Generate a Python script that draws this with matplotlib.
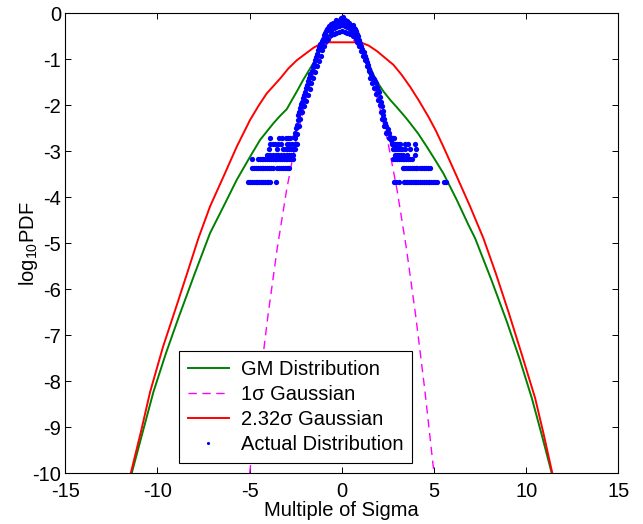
import numpy as np
import matplotlib
matplotlib.use("Agg")
import matplotlib.pyplot as plt

plt.rcParams['font.family'] = ['Liberation Sans', 'DejaVu Sans']
plt.rcParams['mathtext.fontset'] = 'custom'
plt.rcParams['mathtext.rm'] = 'Liberation Sans'
plt.rcParams['mathtext.it'] = 'Liberation Sans:italic'
plt.rcParams['axes.unicode_minus'] = False

# GM distribution
gm_x = [-11.40, -10.80, -10.22, -9.55, -8.87, -8.00, -7.15, -6.42, -5.70, -4.98, -4.43,
        -3.71, -3.35, -2.98, -2.70, -2.44, -2.10, -1.72, -1.27, -0.80, -0.40, 0.0,
        0.40, 0.80, 1.40, 1.85, 2.26, 2.62, 3.00, 3.43, 3.71, 4.15, 4.61, 5.05, 5.51,
        6.24, 6.87, 7.23, 8.10, 8.95, 9.65, 10.31, 10.85, 11.39]
gm_y = [-10.0, -9.10, -8.23, -7.40, -6.63, -5.68, -4.78, -4.20, -3.62, -3.12, -2.75,
        -2.39, -2.23, -2.08, -1.88, -1.70, -1.45, -1.20, -0.90, -0.52, -0.33, -0.28,
        -0.33, -0.52, -1.05, -1.45, -1.70, -1.88, -2.05, -2.25, -2.39, -2.62, -2.90, -3.18, -3.48,
        -4.06, -4.60, -4.89, -5.78, -6.70, -7.52, -8.37, -9.17, -10.0]

# 1 sigma gaussian
g1_x = [-5.0, -4.5, -4.0, -3.5, -3.0, -2.5, -2.0, -1.5, -1.0, -0.5, 0.0,
        0.5, 1.0, 1.5, 2.0, 2.5, 3.0, 3.5, 4.0, 4.5, 5.0]
g1_y = [-10.0, -8.18, -6.55, -5.10, -3.85, -2.80, -1.95, -1.25, -0.78, -0.50, -0.40,
        -0.50, -0.78, -1.25, -1.95, -2.80, -3.85, -5.10, -6.55, -8.18, -10.0]

# 2.32 sigma gaussian
g2_x = [-11.45, -10.90, -10.40, -9.70, -8.95, -8.35, -7.78, -7.15, -6.42, -5.70, -4.98,
        -4.50, -4.07, -3.35, -2.90, -2.44, -1.54, -1.0, 1.0, 1.45, 1.90, 2.35, 2.80,
        3.25, 3.71, 4.20, 4.70, 5.10, 5.51, 6.24, 6.96, 7.68, 8.35, 9.04, 9.75, 10.49,
        10.95, 11.42]
g2_y = [-10.0, -9.10, -8.23, -7.25, -6.34, -5.60, -4.89, -4.20, -3.55, -2.90, -2.32,
        -2.00, -1.74, -1.42, -1.20, -1.02, -0.75, -0.63, -0.63, -0.70, -0.82, -0.97, -1.12,
        -1.34, -1.60, -1.91, -2.25, -2.55, -2.90, -3.55, -4.20, -4.89, -5.65, -6.49, -7.40, -8.37,
        -9.15, -10.0]

# actual distribution: central band (outer edge, inner edge, cap)
core_x = [-2.62, -2.55, -2.50, -2.45, -2.40, -2.36, -2.33, -2.28, -2.22, -2.15, -2.10, -2.05,
          -1.98, -1.93, -1.88, -1.82, -1.76, -1.70, -1.64, -1.58, -1.52, -1.46, -1.40, -1.34,
          -1.28, -1.22, -1.16, -1.10, -1.04, -0.98, -0.92, -0.86, -0.80, -0.74, -0.68, -0.62,
          -0.56, -0.50, -0.44, -0.38, -0.32, -0.26, -0.20, -0.14, -0.08, -0.02,
          0.04, 0.10, 0.16, 0.22, 0.28, 0.34, 0.40, 0.46, 0.52, 0.58, 0.64, 0.70, 0.76, 0.82,
          0.88, 0.94, 1.00, 1.06, 1.12, 1.18, 1.24, 1.30, 1.36, 1.42, 1.48, 1.54, 1.60, 1.66,
          1.72, 1.78, 1.84, 1.90, 1.96, 2.02, 2.08, 2.14, 2.18, 2.22, 2.26, 2.30, 2.36, 2.42,
          2.48, 2.54, 2.60, 2.66, 2.72,
          -0.05, 0.06, -0.30, 0.30, -0.70, 0.72, -1.20, 1.25, -1.75, 1.70, -2.20, 2.35, 2.45]
core_y = [-2.68, -2.60, -2.50, -2.42, -2.33, -2.22, -2.15, -2.05, -1.98, -1.92, -1.85, -1.78,
          -1.72, -1.63, -1.55, -1.48, -1.40, -1.33, -1.25, -1.17, -1.10, -1.02, -0.95, -0.88,
          -0.80, -0.74, -0.67, -0.60, -0.55, -0.48, -0.43, -0.38, -0.35, -0.32, -0.28, -0.30,
          -0.24, -0.22, -0.25, -0.20, -0.18, -0.21, -0.16, -0.19, -0.14, -0.12,
          -0.13, -0.16, -0.15, -0.19, -0.18, -0.22, -0.21, -0.25, -0.27, -0.26, -0.31, -0.34,
          -0.38, -0.44, -0.50, -0.57, -0.64, -0.70, -0.77, -0.84, -0.92, -1.00, -1.05, -1.12,
          -1.20, -1.28, -1.33, -1.38, -1.43, -1.48, -1.52, -1.60, -1.66, -1.72, -1.82, -1.92,
          -2.02, -2.12, -2.22, -2.30, -2.38, -2.45, -2.52, -2.60, -2.68, -2.75, -2.82,
          -0.10, -0.09, -0.14, -0.16, -0.36, -0.40, -0.78, -0.95, -1.35, -1.40, -2.02, -2.45, -2.58]
inner_x = [-2.45, -2.35, -2.25, -2.15, -2.05, -1.95, -1.85, -1.75, -1.65, -1.55, -1.45, -1.35,
           -1.25, -1.15, -1.05, -0.95, -0.85, -0.75, -0.60, -0.45, -0.30, -0.15, 0.0,
           0.15, 0.30, 0.45, 0.60, 0.75, 0.85, 0.95, 1.05, 1.15, 1.25, 1.35, 1.45, 1.55,
           1.65, 1.75, 1.85, 1.95, 2.05, 2.12, 2.20, 2.30, 2.40,
           -0.60, -0.45, -0.30, -0.15, 0.0, 0.15, 0.30, 0.45, 0.60, -0.85, 0.85]
inner_y = [-2.62, -2.45, -2.30, -2.15, -2.02, -1.90, -1.78, -1.65, -1.52, -1.40, -1.28, -1.15,
           -1.03, -0.92, -0.80, -0.70, -0.60, -0.55, -0.48, -0.45, -0.42, -0.40, -0.38,
           -0.40, -0.42, -0.46, -0.50, -0.56, -0.62, -0.72, -0.82, -0.92, -1.02, -1.14, -1.26, -1.40,
           -1.52, -1.62, -1.75, -1.88, -2.00, -2.15, -2.30, -2.45, -2.60,
           -0.38, -0.33, -0.30, -0.27, -0.25, -0.27, -0.30, -0.34, -0.39, -0.50, -0.52]

# actual distribution: tails, one list of x per count level
tail_levels = [-3.66, -3.37, -3.17, -3.07, -2.96, -2.85, -2.70]
tail_left = [
    [-5.08, -4.98, -4.88, -4.78, -4.68, -4.58, -4.48, -4.38, -4.28, -4.18, -4.08, -3.98, -3.90, -3.55],
    [-4.85, -4.75, -4.65, -4.55, -4.45, -4.35, -4.25, -4.15, -4.05, -3.95, -3.85, -3.75,
     -3.50, -3.40, -3.30, -3.20, -3.10, -3.00, -2.90, -2.84],
    [-4.87, -4.55, -4.45, -4.35, -4.25, -4.15, -4.05, -3.95, -3.85, -3.75, -3.65, -3.55,
     -3.45, -3.35, -3.25, -3.15, -3.05, -2.95, -2.85, -2.75, -2.63],
    [-4.05, -3.90, -3.75, -3.55, -3.45, -3.30, -3.15, -3.00, -2.85, -2.75, -2.65],
    [-3.93, -3.53, -3.17, -3.05, -2.95, -2.85, -2.75, -2.65, -2.55],
    [-3.89, -3.75, -3.62, -3.45, -3.30, -2.98, -2.85, -2.70, -2.55, -2.45],
    [-3.89, -3.40, -3.25, -3.05, -2.90, -2.80, -2.55],
]
tail_right = [
    [2.85, 2.95, 3.10, 3.35, 3.45, 3.55, 3.65, 3.75, 3.85, 3.95, 4.05, 4.15, 4.25, 4.35,
     4.45, 4.55, 4.65, 4.75, 4.85, 4.95, 5.05, 5.15, 5.55, 5.65],
    [3.30, 3.40, 3.50, 3.60, 3.70, 3.80, 3.90, 4.00, 4.10, 4.25, 4.35, 4.45, 4.55, 4.65, 4.79],
    [2.80, 2.90, 3.00, 3.10, 3.20, 3.30, 3.40, 3.50, 3.60, 3.70, 3.83],
    [2.89, 3.00, 3.10, 3.20, 3.34, 3.53, 3.98],
    [2.75, 2.85, 2.95, 3.05, 3.15, 3.25, 3.43, 3.71, 4.00],
    [2.71, 2.80, 2.90, 3.00, 3.10, 3.16, 3.43, 3.61, 3.98],
    [2.55, 2.65, 2.75, 2.85],
]

fig = plt.figure(figsize=(6.43, 5.24), dpi=100)
ax = fig.add_axes([0.1016, 0.0968, 0.86, 0.8778])

ax.plot(gm_x, gm_y, color=(0, 0.5, 0), lw=1.4, label='GM Distribution')
ax.plot(g1_x, g1_y, color=(1, 0, 1), lw=1.0, ls=(0, (6, 4)), label='1\u03c3 Gaussian')
ax.plot(g2_x, g2_y, color=(1, 0, 0), lw=1.4, label='2.32\u03c3 Gaussian')

dots_x = core_x + inner_x
dots_y = core_y + inner_y
for lvl, xl, xr in zip(tail_levels, tail_left, tail_right):
    dots_x += xl + xr
    dots_y += [lvl] * (len(xl) + len(xr))
ax.plot(dots_x, dots_y, ls='none', marker='o', ms=3.8, mew=0, color=(0, 0, 1),
        label='Actual Distribution')

ax.set_xlim(-15, 15)
ax.set_ylim(-10, 0)
ax.set_xticks(np.arange(-15, 16, 5))
ax.set_yticks(np.arange(-10, 1, 1))
ax.tick_params(direction='in', length=4, width=0.7, top=True, right=True,
               labelsize=14.5, pad=3)
ax.tick_params(axis='x', pad=6)
for s in ax.spines.values():
    s.set_linewidth(0.8)

ax.set_xlabel('Multiple of Sigma', fontsize=14.5)
ax.set_ylabel('log$_{10}$PDF', fontsize=14.5)
ax.xaxis.set_label_coords(0.5, -0.080)
ax.yaxis.set_label_coords(-0.0675, 0.5)
ax.xaxis.label.set_va('center')
ax.yaxis.label.set_va('center')

leg = ax.legend(loc='lower left', bbox_to_anchor=(0.206, 0.022), fontsize=14.5,
                frameon=True, fancybox=False, edgecolor='black', framealpha=1,
                handlelength=2.0, handletextpad=0.6, labelspacing=0.3,
                borderpad=0.45, borderaxespad=0, markerscale=0.6)
leg.get_frame().set_linewidth(0.8)

fig.savefig('out.png', dpi=100)
